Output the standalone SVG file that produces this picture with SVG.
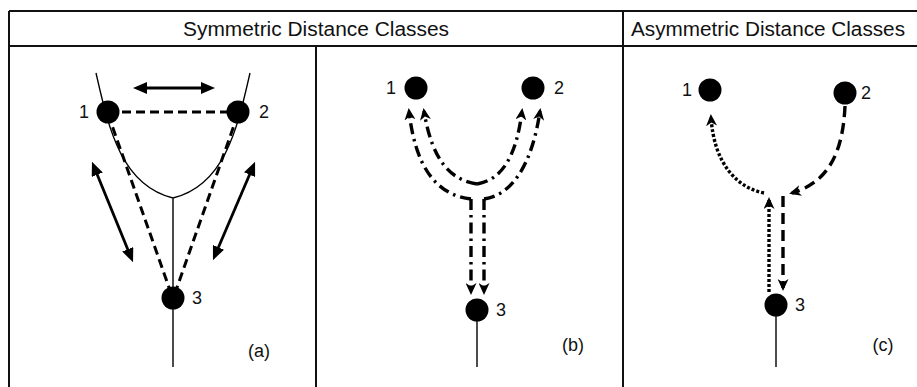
<svg xmlns="http://www.w3.org/2000/svg" width="917" height="387" viewBox="0 0 917 387">
<style>
.frame{stroke:#111;stroke-width:2;fill:none}
.hdr{font-family:"Liberation Sans",Arial,sans-serif;font-size:20px;fill:#111;text-anchor:middle}
.num{font-family:"Liberation Sans",Arial,sans-serif;font-size:18px;fill:#111;text-anchor:middle;dominant-baseline:central}
.node{fill:#000}
.thin{stroke:#000;stroke-width:1.4;fill:none}
.dash{stroke:#000;stroke-width:3;fill:none;stroke-dasharray:9 5}
.arr{stroke:#000;stroke-width:2.8;fill:none;marker-start:url(#tri);marker-end:url(#tri)}
.dd{stroke:#000;stroke-width:3.4;fill:none;stroke-dasharray:11 5 2.5 5;marker-end:url(#chev)}
.dot{stroke:#000;stroke-width:3.4;fill:none;stroke-dasharray:3 2;marker-end:url(#chev)}
.dsh{stroke:#000;stroke-width:3.4;fill:none;stroke-dasharray:11 6;marker-end:url(#chev)}
</style>
<defs>
<marker id="tri" viewBox="0 0 14 12" markerWidth="14" markerHeight="12" refX="10" refY="6" markerUnits="userSpaceOnUse" orient="auto-start-reverse">
<path d="M0,0 L14,6 L0,12 z" fill="#000"/>
</marker>
<marker id="chev" viewBox="0 0 12 11" markerWidth="12" markerHeight="11" refX="9" refY="5.5" markerUnits="userSpaceOnUse" orient="auto">
<path d="M0,0 L12,5.5 L0,11 L3.5,5.5 z" fill="#000"/>
</marker>
</defs>
<rect x="0" y="0" width="917" height="387" fill="#fff"/>
<g id="table">
<path class="frame" d="M9,11 H917 M9,46 H917 M9,11 V387 M623,11 V387 M316,46 V387"/>
<text class="hdr" x="316" y="36" textLength="266" lengthAdjust="spacingAndGlyphs">Symmetric Distance Classes</text>
<text class="hdr" x="768" y="36" textLength="274" lengthAdjust="spacingAndGlyphs">Asymmetric Distance Classes</text>
</g>
<g id="tree-a">
<path class="thin" d="M96,73 C108,125 120,185 173,198 C226,185 238,125 250,73 M173,198 V367"/>
</g>
<g id="tree-b">
<path class="thin" d="M477,310 V367"/>
</g>
<g id="tree-c">
<path class="thin" d="M776,305 V367"/>
</g>
<g id="connectors">
<path class="dash" d="M108,112 H238"/>
<path class="dash" d="M108,114 L172,296"/>
<path class="dash" d="M238,114 L174,296"/>
<path class="arr" d="M137,88 L211,88"/>
<path class="arr" d="M93.5,165.5 L131.5,258.5"/>
<path class="arr" d="M253.5,165.5 L214.5,256.5"/>
<path class="dd" d="M471,199 C435,195 415,165 409,111"/>
<path class="dd" d="M477,184 C450,180 432,160 424,111"/>
<path class="dd" d="M477,184 C500,180 516,160 522,111"/>
<path class="dd" d="M484,199 C512,195 532,165 540,111"/>
<path class="dd" d="M471,199 V292"/>
<path class="dd" d="M484,199 V292"/>
<path class="dot" d="M769,292 V200"/>
<path class="dot" d="M764,193 C738,188 714,165 711,117"/>
<path class="dsh" d="M845,106 C843,150 830,182 792,193"/>
<path class="dsh" d="M783,196 V288"/>
</g>
<g id="a-n1"><circle class="node" cx="108" cy="112" r="11.5"/><text class="num" x="84" y="112">1</text></g>
<g id="a-n2"><circle class="node" cx="238" cy="112" r="11.5"/><text class="num" x="264" y="112">2</text></g>
<g id="a-n3"><circle class="node" cx="173" cy="298" r="11.5"/><text class="num" x="197" y="298">3</text></g>
<g id="b-n1"><circle class="node" cx="416" cy="88" r="11.5"/><text class="num" x="391" y="88">1</text></g>
<g id="b-n2"><circle class="node" cx="533" cy="88" r="11.5"/><text class="num" x="559" y="88">2</text></g>
<g id="b-n3"><circle class="node" cx="477" cy="310" r="11.5"/><text class="num" x="501" y="310">3</text></g>
<g id="c-n1"><circle class="node" cx="710" cy="90" r="11.5"/><text class="num" x="687" y="90">1</text></g>
<g id="c-n2"><circle class="node" cx="845" cy="93" r="11.5"/><text class="num" x="866" y="93">2</text></g>
<g id="c-n3"><circle class="node" cx="776" cy="305" r="11.5"/><text class="num" x="800" y="305">3</text></g>
<g id="labels">
<text class="num" x="259" y="351">(a)</text>
<text class="num" x="573" y="345">(b)</text>
<text class="num" x="883" y="345">(c)</text>
</g>
</svg>
